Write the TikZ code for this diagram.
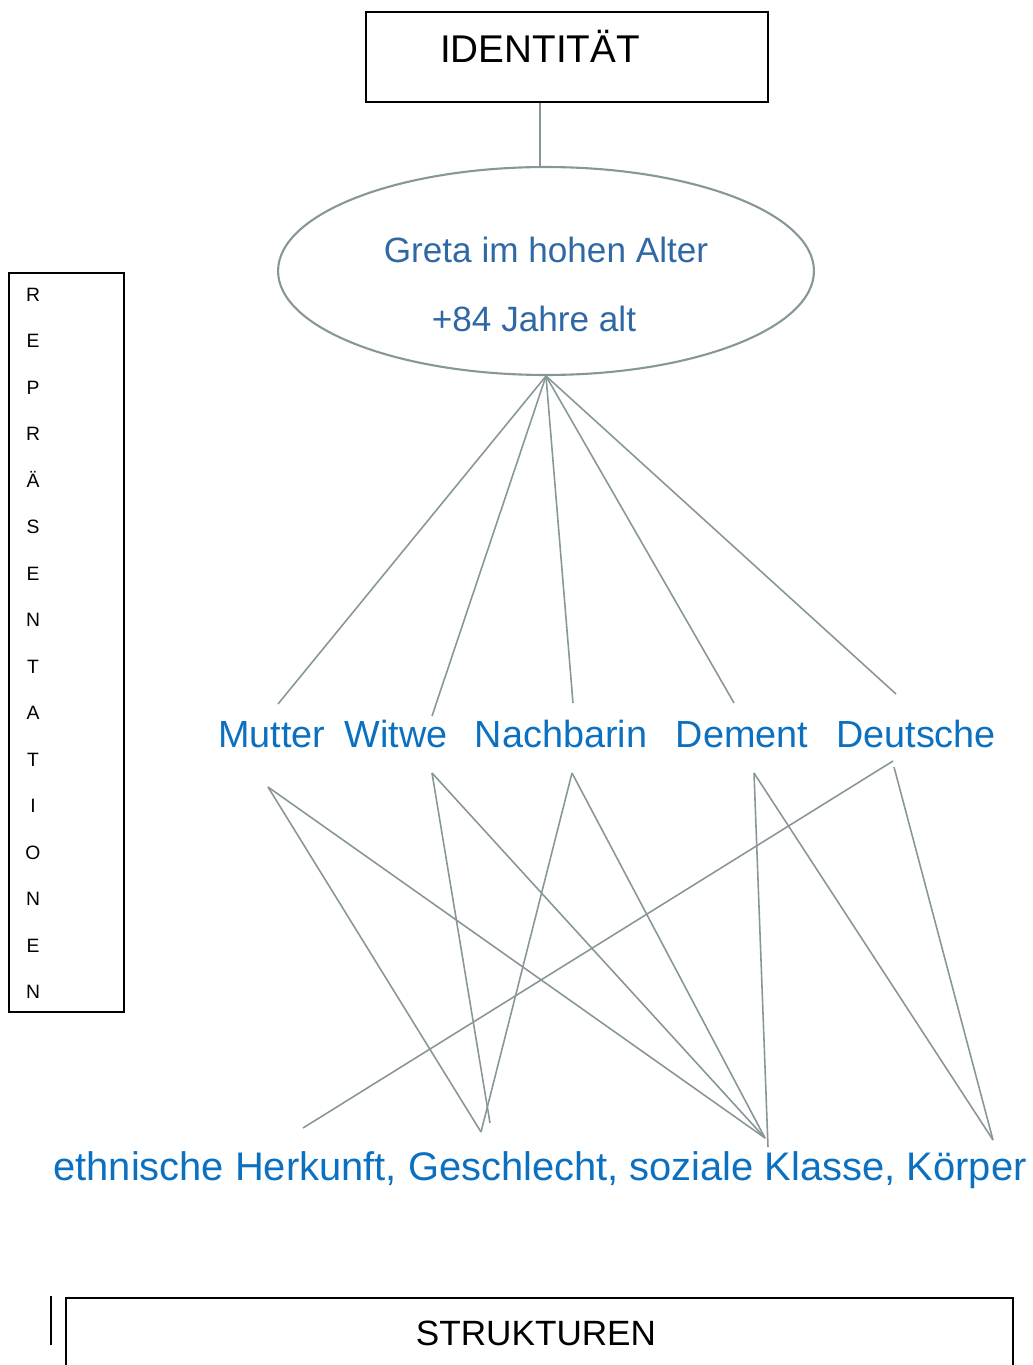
\documentclass[tikz,border=0pt]{standalone}
\usepackage{fontspec}
\setmainfont{Liberation Sans}
\usetikzlibrary{shapes.geometric}

\definecolor{linegray}{RGB}{135,150,152}
\definecolor{gretablue}{RGB}{47,104,165}
\definecolor{rolleblue}{RGB}{12,112,192}

\begin{document}
\begin{tikzpicture}[x=0.02cm,y=-0.02cm]
\tikzstyle{every node}=[inner sep=0pt]
\tikzstyle{kasten}=[draw=black,line width=0.7pt]
\tikzstyle{rolle}=[text=rolleblue,font=\fontsize{21.5}{26}\selectfont,anchor=base]
\tikzstyle{verbindung}=[draw=linegray,line width=0.9pt]
\useasboundingbox (0,0) rectangle (1033,1365);
\clip (0,0) rectangle (1033,1365);

% oben
\node[kasten,minimum width=8.04cm,minimum height=1.8cm] (idbox) at (567,57) {};
\node[anchor=base,font=\fontsize{22}{26}\selectfont] (idtext) at (540,63) {IDENTITÄT};

\node[ellipse,draw=linegray,line width=1.2pt,minimum width=10.72cm,minimum height=4.16cm] (greta) at (546,271) {};
\node[anchor=base,text=gretablue,font=\fontsize{20}{24}\selectfont] (greta1) at (546,262) {Greta im hohen Alter};
\node[anchor=base,text=gretablue,font=\fontsize{20}{24}\selectfont] (greta2) at (534,331) {+84 Jahre alt};
\draw[verbindung] (idtext |- idbox.south) -- (idtext |- greta.north);

% links
\node[kasten,minimum width=2.3cm,minimum height=14.78cm] (repbox) at (66.5,642.5) {};
\foreach \b [count=\i from 0] in {R,E,P,R,Ä,S,E,N,T,A,T,I,O,N,E,N}
  \node[anchor=base,font=\fontsize{11}{12}\selectfont] (rep\i) at (33,{301.5+46.47*\i}) {\b};

% Rollen
\node[rolle] (mutter) at (272,747) {Mutter};
\node[rolle] (witwe) at (396,747) {Witwe};
\node[rolle] (nachbarin) at (561,747) {Nachbarin};
\node[rolle] (dement) at (742,747) {Dement};
\node[rolle] (deutsche) at (916,747) {Deutsche};

\node[rolle,font=\fontsize{22.7}{27}\selectfont] (merkmale) at (540,1180) {ethnische Herkunft, Geschlecht, soziale Klasse, Körper};

% Endpunkte
\coordinate (mutter-o) at (278,704);
\coordinate (witwe-o) at (432,716);
\coordinate (nachbarin-o) at (573,703);
\coordinate (dement-o) at (734,703);
\coordinate (deutsche-o) at (896,694);
\coordinate (mutter-u) at (268,787);
\coordinate (witwe-u) at (432,773);
\coordinate (nachbarin-u) at (572,773);
\coordinate (dement-u) at (754,773);
\coordinate (deutsche-u) at (893,761);
\coordinate (deutsche-u2) at (894,767);
\coordinate (herkunft) at (303,1128);
\coordinate (geschlecht) at (481,1132);
\coordinate (geschlecht2) at (490,1123);
\coordinate (klasse) at (765,1138);
\coordinate (klasse2) at (768,1147);
\coordinate (koerper) at (993,1140);

\foreach \z in {mutter,witwe,nachbarin,dement,deutsche}
  \draw[verbindung] (greta.south) -- (\z-o);

\foreach \a/\b in {mutter-u/geschlecht,mutter-u/klasse,witwe-u/geschlecht2,witwe-u/klasse,nachbarin-u/geschlecht,nachbarin-u/klasse,dement-u/klasse2,dement-u/koerper,deutsche-u/herkunft,deutsche-u2/koerper}
  \draw[verbindung] (\a) -- (\b);

% unten
\draw[line width=0.7pt] (51,1296) -- (51,1345);
\draw[kasten] (66,1298) rectangle (1013,1420);
\node[anchor=base,font=\fontsize{20}{24}\selectfont] (strukturen) at (536,1345) {STRUKTUREN};
\end{tikzpicture}
\end{document}
